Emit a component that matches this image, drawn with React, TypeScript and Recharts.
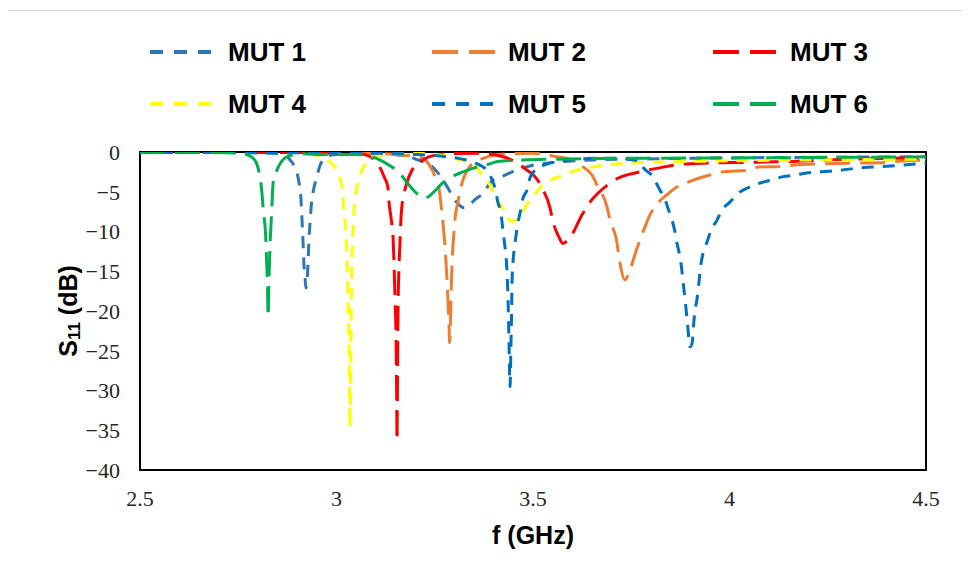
import React from 'react';
import { LineChart, Line, XAxis, YAxis, ReferenceArea } from 'recharts';

// Frequency (GHz), S11 (dB) pairs
const mut1: [number, number][] = [
  [2.5, -0.05], [2.7, -0.05], [2.8, -0.1], [2.85, -0.2], [2.87, -0.4], [2.882, -1.0], [2.893, -1.8],
  [2.9, -2.7], [2.905, -4.0], [2.909, -5.5], [2.912, -8.3], [2.915, -11.5], [2.917, -14], [2.92, -15.8],
  [2.922, -17.1], [2.925, -16.4], [2.9275, -14], [2.93, -11], [2.933, -8.7], [2.936, -6.6], [2.9427, -4.5],
  [2.95, -3.1], [2.958, -1.7], [2.97, -0.8], [2.983, -0.4], [3.0, -0.3], [3.05, -0.3], [3.12, -0.3],
  [3.16, -0.4], [3.187, -0.6], [3.207, -1.0], [3.238, -1.6], [3.256, -2.5], [3.271, -3.5], [3.289, -5.0],
  [3.307, -6.4], [3.325, -7.0], [3.34, -6.6], [3.352, -6.0], [3.373, -5.2], [3.396, -3.6], [3.421, -3.1],
  [3.447, -2.5], [3.475, -2.0], [3.505, -1.6], [3.536, -1.4], [3.58, -1.2], [3.65, -1.0], [3.75, -0.9],
  [3.9, -0.8], [4.1, -0.7], [4.3, -0.65], [4.5, -0.6],
];
const mut2: [number, number][] = [
  [2.5, -0.02], [2.9, -0.05], [3.0, -0.1], [3.1, -0.2], [3.15, -0.3], [3.19, -0.5], [3.21, -0.65],
  [3.22, -0.8], [3.236, -1.6], [3.25, -3.0], [3.262, -5.0], [3.268, -7.5], [3.272, -9.5], [3.277, -12.5],
  [3.281, -16], [3.284, -19], [3.2865, -22], [3.2878, -24], [3.2895, -22.5], [3.291, -19], [3.293, -15.5],
  [3.2955, -12.5], [3.299, -10], [3.302, -8.2], [3.308, -6.5], [3.314, -5.0], [3.322, -3.5], [3.333, -2.3],
  [3.345, -1.5], [3.373, -0.8], [3.4, -0.4], [3.45, -0.2], [3.5, -0.15], [3.53, -0.3], [3.56, -0.6],
  [3.6, -1.0], [3.625, -1.8], [3.65, -2.9], [3.6654, -4.4], [3.6883, -6.9], [3.696, -8.6], [3.7137, -11.4],
  [3.7188, -13.2], [3.734, -16.1], [3.7468, -14.8], [3.7646, -12.1], [3.7774, -10.4], [3.7977, -7.9],
  [3.818, -6.4], [3.84, -5.4], [3.866, -4.4], [3.894, -3.8], [3.95, -2.9], [3.983, -2.5], [4.045, -2.3],
  [4.073, -1.9], [4.136, -1.8], [4.172, -1.6], [4.23, -1.5], [4.3, -1.4], [4.38, -1.35], [4.45, -1.1],
  [4.5, -1.0],
];
const mut3: [number, number][] = [
  [2.5, -0.05], [2.9, -0.05], [3.0, -0.1], [3.05, -0.2], [3.08, -0.45], [3.095, -0.9], [3.11, -1.9],
  [3.122, -3.2], [3.131, -4.5], [3.1336, -6.3], [3.138, -8], [3.141, -9.2], [3.144, -10.8], [3.1463, -14],
  [3.149, -18.5], [3.1514, -23], [3.153, -30], [3.154, -36.3], [3.155, -30], [3.1565, -20], [3.159, -14.5],
  [3.1616, -11.3], [3.1641, -8.3], [3.1667, -6.7], [3.172, -5.2], [3.1794, -3.8], [3.192, -2.3],
  [3.22, -1.0], [3.25, -0.4], [3.3, -0.2], [3.365, -0.15], [3.424, -0.6], [3.445, -1.0], [3.467, -1.6],
  [3.485, -2.3], [3.505, -3.1], [3.523, -4.5], [3.543, -7], [3.551, -8.8], [3.565, -10.6], [3.576, -11.5],
  [3.588, -11.1], [3.599, -10.4], [3.6247, -7.9], [3.645, -6.3], [3.6883, -4.2], [3.716, -3.3],
  [3.772, -2.5], [3.831, -1.9], [3.869, -1.6], [3.93, -1.4], [4.05, -1.3], [4.15, -1.2], [4.24, -1.0],
  [4.35, -0.85], [4.5, -0.7],
];
const mut4: [number, number][] = [
  [2.5, -0.05], [2.8, -0.05], [2.9, -0.1], [2.94, -0.3], [2.965, -0.7], [2.98, -1.1], [2.996, -1.9],
  [3.009, -3.3], [3.014, -4.5], [3.0165, -6.0], [3.019, -7.5], [3.023, -9.5], [3.026, -12.5], [3.029, -18],
  [3.032, -25], [3.0344, -34.6], [3.0365, -25], [3.0385, -16], [3.0405, -12], [3.043, -8.9], [3.0445, -7.2],
  [3.052, -4.4], [3.06, -2.9], [3.0725, -1.6], [3.09, -0.6], [3.118, -0.4], [3.165, -0.15], [3.22, -0.2],
  [3.27, -0.4], [3.3, -0.8], [3.332, -1.2], [3.357, -1.9], [3.373, -3.1], [3.39, -4.1], [3.403, -5.7],
  [3.421, -6.9], [3.434, -8.2], [3.444, -8.7], [3.454, -8.6], [3.472, -7.7], [3.487, -6.4], [3.51, -5.0],
  [3.525, -4.1], [3.556, -3.3], [3.58, -2.9], [3.61, -2.3], [3.64, -2.0], [3.71, -1.5], [3.8, -1.3],
  [3.95, -1.15], [4.2, -1.0], [4.5, -0.9],
];
const mut5: [number, number][] = [
  [2.5, -0.05], [2.9, -0.1], [3.1, -0.15], [3.2, -0.3], [3.28, -0.6], [3.32, -0.9], [3.35, -1.3],
  [3.37, -1.8], [3.383, -2.3], [3.396, -3.5], [3.403, -4.5], [3.411, -6.4], [3.4186, -7.7], [3.4237, -10],
  [3.4288, -12], [3.4338, -15], [3.4365, -18.5], [3.439, -24], [3.4415, -29.5], [3.444, -24], [3.4456, -20],
  [3.4466, -16.5], [3.449, -14], [3.4542, -11.5], [3.4618, -8.9], [3.467, -7.7], [3.4746, -5.8],
  [3.4847, -4.8], [3.492, -3.3], [3.5, -2.6], [3.51, -2.0], [3.53, -1.6], [3.564, -1.2], [3.594, -1.0],
  [3.65, -0.8], [3.72, -0.8], [3.755, -1.0], [3.772, -1.2], [3.78, -1.9], [3.805, -3.1], [3.823, -4.8],
  [3.835, -5.8], [3.843, -7.0], [3.854, -8.6], [3.861, -10], [3.866, -11.4], [3.872, -12.7], [3.877, -14.2],
  [3.882, -16.4], [3.887, -18.6], [3.893, -21.5], [3.8995, -24.5], [3.905, -24], [3.909, -21.5],
  [3.912, -20], [3.917, -18.6], [3.922, -16.5], [3.927, -14.2], [3.933, -12.7], [3.943, -11.3],
  [3.953, -9.8], [3.968, -8.6], [3.981, -7.3], [4.001, -6.3], [4.022, -5.2], [4.047, -4.5], [4.078, -3.9],
  [4.108, -3.5], [4.136, -3.1], [4.167, -2.9], [4.2, -2.6], [4.23, -2.5], [4.28, -2.3], [4.33, -2.0],
  [4.4, -1.8], [4.5, -1.4],
];
const mut6: [number, number][] = [
  [2.5, -0.05], [2.65, -0.05], [2.72, -0.1], [2.76, -0.2], [2.78, -0.5], [2.79, -0.9], [2.798, -1.6],
  [2.805, -3.1], [2.81, -5.0], [2.814, -7.5], [2.8196, -10.4], [2.822, -13.5], [2.8245, -17], [2.826, -20.7],
  [2.828, -16.5], [2.8295, -14], [2.831, -11.5], [2.833, -9.5], [2.8355, -7], [2.837, -5.2], [2.839, -3.8],
  [2.851, -2.0], [2.874, -0.6], [2.907, -0.2], [2.95, -0.3], [3.05, -0.3], [3.09, -0.6], [3.11, -1.0],
  [3.135, -1.7], [3.16, -2.6], [3.18, -3.9], [3.2, -5.0], [3.22, -5.8], [3.235, -5.6], [3.25, -4.9],
  [3.27, -3.9], [3.294, -3.1], [3.322, -2.5], [3.35, -2.0], [3.383, -1.6], [3.41, -1.2], [3.475, -1.0],
  [3.56, -0.9], [3.72, -0.8], [4.0, -0.75], [4.5, -0.6],
];

const seriesNames = ['MUT 1', 'MUT 2', 'MUT 3', 'MUT 4', 'MUT 5', 'MUT 6'];
const seriesColors = ['#2E75B6', '#ED7D31', '#FF0000', '#FFFF00', '#0070C0', '#00B050'];
const seriesDash = ['12 9', '25 10', '25 10', '12 9', '12 9', '25 10'];
const legendDash = ['13 11', '26 11', '26 11', '13 11', '13 11', '26 11'];
const seriesValues = [mut1, mut2, mut3, mut4, mut5, mut6];

const xTicks = [2.5, 3, 3.5, 4, 4.5];
const yTicks = [0, -5, -10, -15, -20, -25, -30, -35, -40];

const toRows = (pts: [number, number][]) => pts.map(([f, v]) => ({ f, v }));

const legendCols = [
  { line: 142, text: 220 },
  { line: 424, text: 500 },
  { line: 705, text: 782 },
];
const legendRows = [44, 96];

const XLabel = (props: any) => {
  const { viewBox } = props;
  const cx = viewBox.x + viewBox.width / 2;
  const cy = viewBox.y + 65;
  return (
    <text x={cx} y={cy} textAnchor="middle" dominantBaseline="central"
      fontFamily="'Liberation Sans', Arial, sans-serif" fontWeight="bold" fontSize={25} fill="#000">
      f (GHz)
    </text>
  );
};

const YLabel = (props: any) => {
  const { viewBox } = props;
  const cx = viewBox.x - 12;
  const cy = viewBox.y + viewBox.height / 2;
  return (
    <text x={cx} y={cy} transform={`rotate(-90 ${cx} ${cy})`} textAnchor="middle" dominantBaseline="central"
      fontFamily="'Liberation Sans', Arial, sans-serif" fontWeight="bold" fontSize={25} fill="#000">
      S<tspan fontSize={17} dy={6}>11</tspan><tspan dy={-6}> (dB)</tspan>
    </text>
  );
};

const fmtY = (v: number) => (v < 0 ? '\u2212' + Math.abs(v) : String(v));

export default function App() {
  return (
    <div style={{ position: 'relative', width: 962, height: 571, overflow: 'hidden', background: '#fff' }}>
      <div style={{ position: 'absolute', left: -1, top: 2, width: 1000, height: 700, border: '1px solid #d9d9d9', boxSizing: 'border-box' }} />
      {seriesNames.map((name, i) => {
        const col = legendCols[i % 3];
        const top = legendRows[Math.floor(i / 3)];
        return (
          <React.Fragment key={name}>
            <svg style={{ position: 'absolute', left: col.line, top: top - 5 }} width={66} height={10}>
              <line x1={0} y1={5} x2={66} y2={5} stroke={seriesColors[i]} strokeWidth={4} strokeDasharray={legendDash[i]} />
            </svg>
            <div style={{ position: 'absolute', left: col.text, top: top - 16, height: 32, lineHeight: '32px',
              fontFamily: "'Liberation Sans', Arial, sans-serif", fontWeight: 'bold', fontSize: 26, color: '#000', whiteSpace: 'nowrap' }}>
              {name}
            </div>
          </React.Fragment>
        );
      })}
      <div style={{ position: 'absolute', left: 0, top: 0 }}>
        <LineChart width={962} height={571} margin={{ top: 144, right: 44, bottom: 79, left: 72 }}>
          <XAxis dataKey="f" type="number" domain={[2.5, 4.5]} ticks={xTicks} allowDataOverflow
            axisLine={false} tickLine={false} tickSize={0} tickMargin={20} height={30}
            tick={{ fontFamily: "'Liberation Serif', 'DejaVu Serif', serif", fontSize: 22, fill: '#262626' }}
            label={XLabel} />
          <YAxis type="number" domain={[-40, 0]} ticks={yTicks} allowDataOverflow width={60}
            axisLine={false} tickLine={false} tickSize={0} tickMargin={20} tickFormatter={fmtY}
            tick={{ fontFamily: "'Liberation Serif', 'DejaVu Serif', serif", fontSize: 22, fill: '#262626' }}
            label={YLabel} />
          <ReferenceArea x1={2.5} x2={4.5} y1={-40} y2={0} fill="none" stroke="#000" strokeWidth={2} fillOpacity={0} />
          {seriesValues.map((pts, i) => (
            <Line key={seriesNames[i]} data={toRows(pts)} dataKey="v" name={seriesNames[i]} type="monotone"
              stroke={seriesColors[i]} strokeWidth={3} strokeDasharray={seriesDash[i]} dot={false}
              activeDot={false} isAnimationActive={false} />
          ))}
        </LineChart>
      </div>
    </div>
  );
}
